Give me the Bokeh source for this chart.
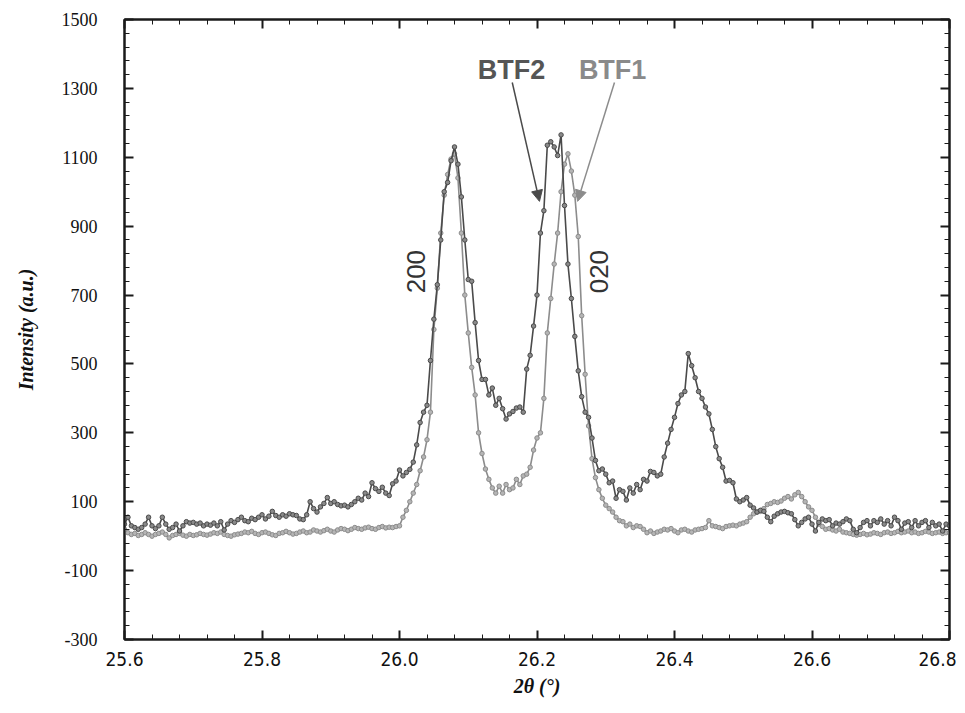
import numpy as np
from bokeh.plotting import figure
from bokeh.models import LinearAxis, FixedTicker, Arrow, NormalHead, Label, Range1d
from bokeh.embed import file_html
from bokeh.resources import INLINE

# ---- data ----
x_start = 25.6
x_step = 0.005

btf2 = [
    35, 55, 30, 25, 20, 25, 35, 55, 30, 22,
    30, 55, 35, 20, 25, 35, 15, 30, 42, 38,
    40, 35, 38, 30, 35, 32, 38, 30, 42, 18,
    35, 45, 40, 48, 55, 45, 42, 52, 48, 55,
    62, 50, 58, 72, 60, 55, 62, 58, 65, 62,
    60, 50, 48, 62, 100, 80, 70, 85, 95, 112,
    95, 100, 92, 88, 90, 85, 92, 100, 110, 105,
    125, 115, 155, 138, 130, 142, 125, 118, 152, 160,
    192, 175, 185, 194, 215, 265, 330, 360, 380, 510,
    630, 730, 860, 1000, 1027, 1090, 1130, 1080, 985, 860,
    745, 740, 620, 510, 455, 455, 410, 430, 380, 400,
    370, 340, 355, 362, 372, 375, 360, 485, 525, 610,
    700, 880, 945, 1135, 1145, 1130, 1105, 1165, 960, 790,
    690, 580, 480, 405, 360, 345, 285, 220, 190, 195,
    180, 155, 160, 110, 135, 130, 105, 140, 125, 150,
    135, 165, 160, 188, 185, 175, 180, 230, 270, 310,
    345, 385, 410, 420, 530, 495, 460, 420, 400, 375,
    355, 310, 260, 225, 200, 160, 162, 155, 108, 100,
    105, 112, 90, 82, 70, 75, 72, 55, 42, 58,
    65, 70, 72, 68, 65, 48, 30, 40, 50, 55,
    35, 15, 40, 50, 45, 48, 30, 38, 35, 42,
    50, 45, 20, 10, 25, 40, 45, 30, 45, 40,
    50, 35, 45, 30, 55, 45, 20, 38, 42, 25,
    45, 30, 40, 45, 25, 40, 30, 35, 15, 35, 30,
]

btf1 = [
    20, 10, 5, 8, 2, 5, 10, 5, 0, 5,
    8, 12, 5, -5, 2, 5, 8, 3, 0, 5,
    2, 4, 8, 5, 3, 6, 10, 8, 12, 5,
    2, 0, 4, 6, 8, 12, 10, 14, 8, 5,
    10, 12, 8, 4, 2, 8, 10, 14, 10, 6,
    8, 12, 15, 10, 12, 18, 15, 12, 16, 20,
    15, 12, 18, 22, 20, 16, 20, 25, 22, 20,
    24, 26, 22, 20, 25, 28, 24, 26, 25, 28,
    30, 55, 75, 100, 125, 150, 190, 230, 280, 360,
    600, 720, 880, 990, 1050, 1095, 1110, 1040, 880, 700,
    590, 490, 410, 300, 240, 195, 165, 140, 125, 145,
    125, 150, 135, 140, 165, 150, 175, 180, 200, 250,
    285, 300, 400, 590, 690, 790, 880, 1000, 1080, 1110,
    1060, 990, 870, 640, 470, 320, 225, 170, 135, 110,
    90, 80, 70, 55, 45, 42, 30, 35, 25, 30,
    28, 20, 10, 15, 8, 12, 15, 20, 18, 22,
    15, 10, 18, 20, 15, 12, 18, 20, 22, 25,
    45, 30, 28, 25, 22, 28, 30, 32, 30, 35,
    38, 42, 55, 65, 70, 72, 80, 92, 95, 100,
    98, 102, 110, 115, 108, 120, 127, 115, 100, 85,
    75, 55, 35, 28, 20, 22, 18, 15, 20, 12,
    10, 8, 5, 3, 5, 8, 4, 6, 10, 8,
    5, 10, 12, 8, 10, 14, 10, 12, 15, 10,
    12, 8, 10, 14, 12, 8, 10, 12, 8, 10, 10,
]

two_theta = [round(x_start + x_step * i, 3) for i in range(len(btf2))]

x_ticks = [25.6, 25.8, 26.0, 26.2, 26.4, 26.6, 26.8]
x_tick_labels = ["25.6", "25.8", "26.0", "26.2", "26.4", "26.6", "26.8"]
y_ticks = [-300, -100, 100, 300, 500, 700, 900, 1100, 1300, 1500]
y_tick_labels = ["-300", "-100", "100", "300", "500", "700", "900", "1100", "1300", "1500"]
x_minor = [round(25.6 + 0.04 * k, 2) for k in range(31)]
y_minor = list(range(-300, 1501, 40))

c_btf2 = "#4a4a4a"
c_btf1 = "#8c8c8c"

p = figure(frame_width=825, frame_height=620,
           x_range=Range1d(25.6, 26.8), y_range=Range1d(-300, 1500),
           output_backend="svg", toolbar_location=None,
           min_border_left=124, min_border_right=7,
           min_border_top=19, min_border_bottom=60,
           background_fill_color="white", border_fill_color="white")

p.xgrid.visible = False
p.ygrid.visible = False
p.outline_line_color = "#1a1a1a"
p.outline_line_width = 2

xt = FixedTicker(ticks=x_ticks, minor_ticks=x_minor)
yt = FixedTicker(ticks=y_ticks, minor_ticks=y_minor)

def style(ax):
    ax.axis_line_color = "#1a1a1a"
    ax.axis_line_width = 2
    ax.major_tick_in = 9
    ax.major_tick_out = 0
    ax.minor_tick_in = 5
    ax.minor_tick_out = 0
    ax.major_tick_line_color = "#1a1a1a"
    ax.major_tick_line_width = 2
    ax.minor_tick_line_color = "#1a1a1a"
    ax.minor_tick_line_width = 1

xa = p.xaxis[0]
xa.ticker = xt
style(xa)
xa.major_label_overrides = dict(zip(x_ticks, x_tick_labels))
xa.major_label_text_font = "'Liberation Sans Narrow', 'DejaVu Sans Condensed', sans-serif"
xa.major_label_text_font_size = "19px"
xa.major_label_text_color = "#111111"
xa.major_label_standoff = 12
xa.axis_label = "2θ (°)"
xa.axis_label_text_font = "Liberation Serif"
xa.axis_label_text_font_style = "bold italic"
xa.axis_label_text_font_size = "20px"
xa.axis_label_text_color = "#111111"
xa.axis_label_standoff = 6

ya = p.yaxis[0]
ya.ticker = yt
style(ya)
ya.major_label_overrides = dict(zip(y_ticks, y_tick_labels))
ya.major_label_text_font = "Liberation Serif"
ya.major_label_text_font_size = "18px"
ya.major_label_text_color = "#111111"
ya.major_label_standoff = 27
ya.axis_label = "Intensity (a.u.)"
ya.axis_label_text_font = "Liberation Serif"
ya.axis_label_text_font_style = "bold italic"
ya.axis_label_text_font_size = "20px"
ya.axis_label_text_color = "#111111"
ya.axis_label_standoff = 22

top = LinearAxis(ticker=xt, major_label_text_font_size="1px",
                 major_label_text_color=None, major_label_standoff=0)
style(top)
p.add_layout(top, "above")
right = LinearAxis(ticker=yt, major_label_text_font_size="1px",
                   major_label_text_color=None, major_label_standoff=0)
style(right)
p.add_layout(right, "right")

# series
p.line(two_theta, btf1, line_color=c_btf1, line_width=1.6)
p.scatter(two_theta, btf1, marker="circle", size=4.5, line_color=c_btf1,
          fill_color="#b5b5b5", line_width=1)
p.line(two_theta, btf2, line_color=c_btf2, line_width=1.6)
p.scatter(two_theta, btf2, marker="circle", size=4.5, line_color=c_btf2,
          fill_color="#8a8a8a", line_width=1)

# arrows
p.add_layout(Arrow(end=NormalHead(size=11, fill_color=c_btf2, line_color=c_btf2),
                   x_start=26.164, y_start=1317, x_end=26.2036, y_end=972,
                   line_color=c_btf2, line_width=1.5))
p.add_layout(Arrow(end=NormalHead(size=11, fill_color=c_btf1, line_color=c_btf1),
                   x_start=26.3127, y_start=1317, x_end=26.259, y_end=972,
                   line_color=c_btf1, line_width=1.5))

# labels
p.add_layout(Label(x=26.163, y=1352, text="BTF2", text_font="Liberation Sans",
                   text_font_style="bold", text_font_size="27px", text_color="#555555",
                   text_align="center", text_baseline="middle"))
p.add_layout(Label(x=26.310, y=1352, text="BTF1", text_font="Liberation Sans",
                   text_font_style="bold", text_font_size="27px", text_color="#8a8a8a",
                   text_align="center", text_baseline="middle"))
p.add_layout(Label(x=26.0247, y=768, text="200", text_font="Liberation Sans",
                   text_font_size="26px", text_color="#333333", angle=np.pi / 2,
                   text_align="center", text_baseline="middle"))
p.add_layout(Label(x=26.2909, y=768, text="020", text_font="Liberation Sans",
                   text_font_size="26px", text_color="#333333", angle=np.pi / 2,
                   text_align="center", text_baseline="middle"))

open("out.html", "w").write(file_html(p, INLINE))
